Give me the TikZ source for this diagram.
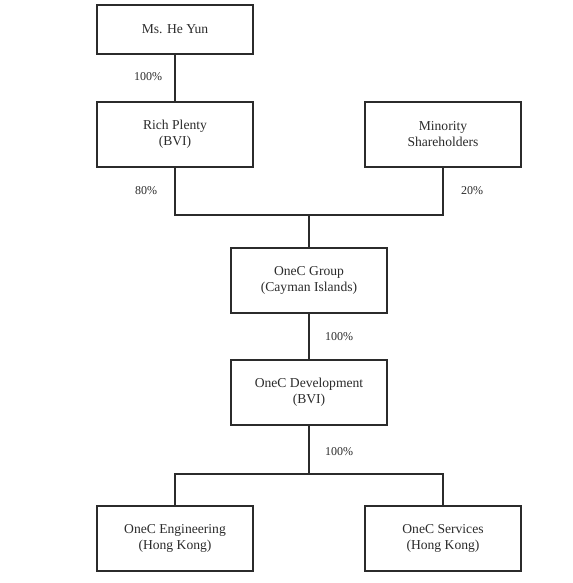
\documentclass[tikz,border=0pt]{standalone}
\usepackage{fontspec}
\setmainfont{Liberation Serif}
\usepackage{tikz}
\usetikzlibrary{positioning}
\definecolor{ink}{HTML}{2B2B2B}

\begin{document}
\begin{tikzpicture}[x=0.75pt,y=-0.75pt,
  entity/.style={rectangle,draw=ink,line width=0.9pt,minimum width=117pt,minimum height=48.75pt,align=center,font=\fontsize{10.2}{12}\selectfont,text=ink,inner sep=2pt},
  share/.style={font=\fontsize{9}{11}\selectfont,text=ink,inner sep=0pt},
  link/.style={draw=ink,line width=0.9pt}]
\useasboundingbox (0,0) rectangle (573,583);
\node[entity,minimum height=36.75pt] (heyun) at (175,29.5) {Ms. He Yun};
\node[entity] (rich) at (175,134.5) {Rich Plenty\\(BVI)};
\node[entity] (minor) at (443,134.5) {Minority\\Shareholders};
\node[entity] (group) at (309,280.5) {OneC Group\\(Cayman Islands)};
\node[entity] (dev) at (309,392.5) {OneC Development\\(BVI)};
\node[entity] (eng) at (175,538.5) {OneC Engineering\\(Hong Kong)};
\node[entity] (serv) at (443,538.5) {OneC Services\\(Hong Kong)};
% junctions
\coordinate (top) at (309,215);
\coordinate (bottom) at (309,474);
\draw[link] (heyun) -- (rich);
\draw[link] (rich.south) |- (top) -| (minor.south);
\draw[link] (top) -- (group.north);
\draw[link] (group) -- (dev);
\draw[link] (dev.south) -- (bottom);
\draw[link] (eng.north) |- (bottom) -| (serv.north);
% holdings
\node[share] (p1) at (148,77) {100\%};
\node[share] (p2) at (146,191) {80\%};
\node[share] (p3) at (472,191) {20\%};
\node[share] (p4) at (339,337) {100\%};
\node[share] (p5) at (339,452) {100\%};
\end{tikzpicture}
\end{document}
